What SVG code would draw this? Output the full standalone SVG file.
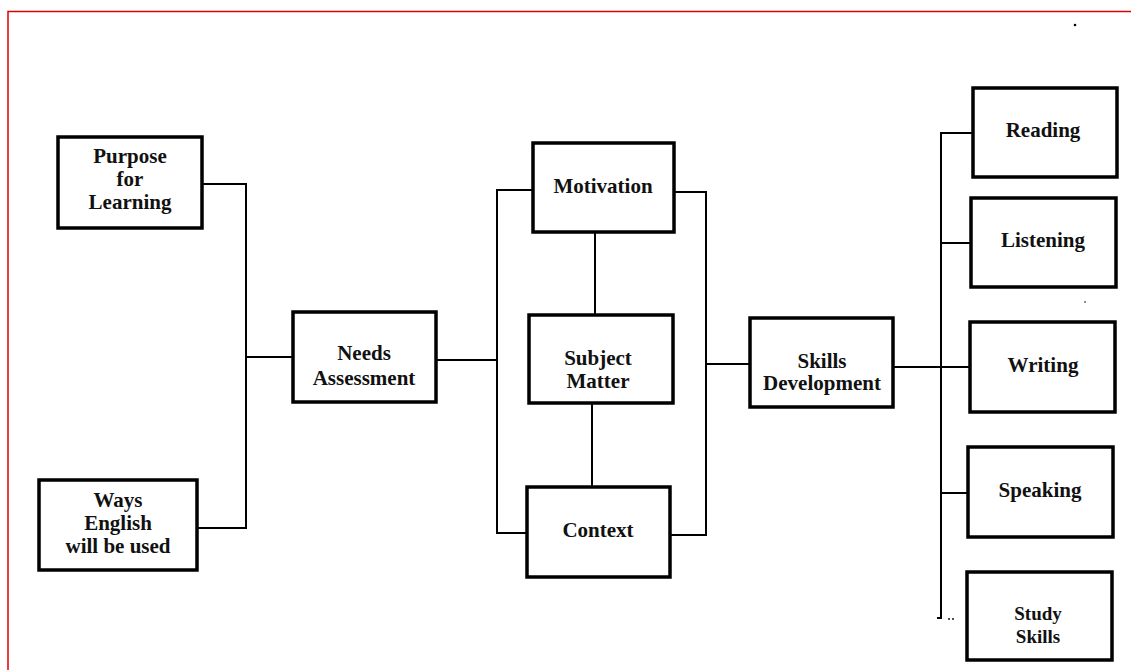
<svg xmlns="http://www.w3.org/2000/svg" width="1131" height="670" viewBox="0 0 1131 670">
<style>
.box{fill:#fff;stroke:#000;stroke-width:3.5}
.ln{fill:none;stroke:#000;stroke-width:2}
.t{font-family:"Liberation Serif","DejaVu Serif",serif;font-weight:bold;font-size:21px;fill:#111;text-anchor:middle}
.s{font-size:19px}
</style>
<rect width="1131" height="670" fill="#fff"/>
<path d="M8 670V11.5H1131" fill="none" stroke="#e00000" stroke-width="1.5"/>
<g id="connectors">
<path class="ln" d="M202 184H246V528H197"/>
<path class="ln" d="M246 357H293"/>
<path class="ln" d="M436 360H497"/>
<path class="ln" d="M533 190H497V533H527"/>
<path class="ln" d="M674 192H706V535H670"/>
<path class="ln" d="M595 232V315"/>
<path class="ln" d="M592 403V487"/>
<path class="ln" d="M706 364H750"/>
<path class="ln" d="M893 367H970"/>
<path class="ln" d="M973 133H941V618H937"/>
<path class="ln" d="M941 243H971"/>
<path class="ln" d="M940 493H968"/>
<circle cx="949" cy="619" r="0.9"/>
<circle cx="953" cy="619" r="0.9"/>
<circle cx="1075" cy="25" r="1.3"/>
<circle cx="1085" cy="302" r="0.8"/>
</g>
<g id="purpose"><rect class="box" x="58" y="137" width="144" height="91"/>
<text class="t" x="130" y="163">Purpose</text><text class="t" x="130" y="186">for</text><text class="t" x="130" y="209">Learning</text></g>
<g id="ways"><rect class="box" x="39" y="480" width="158" height="90"/>
<text class="t" x="118" y="507">Ways</text><text class="t" x="118" y="530">English</text><text class="t" x="118" y="553">will be used</text></g>
<g id="needs"><rect class="box" x="293" y="312" width="143" height="90"/>
<text class="t" x="364" y="360">Needs</text><text class="t" x="364" y="385">Assessment</text></g>
<g id="motivation"><rect class="box" x="533" y="143" width="141" height="89"/>
<text class="t" x="603" y="193">Motivation</text></g>
<g id="subject"><rect class="box" x="529" y="315" width="144" height="88"/>
<text class="t" x="598" y="365">Subject</text><text class="t" x="598" y="388">Matter</text></g>
<g id="context"><rect class="box" x="527" y="487" width="143" height="90"/>
<text class="t" x="598" y="537">Context</text></g>
<g id="skills"><rect class="box" x="750" y="318" width="143" height="89"/>
<text class="t" x="822" y="368">Skills</text><text class="t" x="822" y="390">Development</text></g>
<g id="reading"><rect class="box" x="973" y="88" width="144" height="89"/>
<text class="t" x="1043" y="137">Reading</text></g>
<g id="listening"><rect class="box" x="971" y="198" width="145" height="89"/>
<text class="t" x="1043" y="247">Listening</text></g>
<g id="writing"><rect class="box" x="970" y="322" width="145" height="90"/>
<text class="t" x="1043" y="372">Writing</text></g>
<g id="speaking"><rect class="box" x="968" y="447" width="145" height="90"/>
<text class="t" x="1040" y="497">Speaking</text></g>
<g id="study"><rect class="box" x="967" y="572" width="145" height="88"/>
<text class="t s" x="1038" y="620">Study</text><text class="t s" x="1038" y="643">Skills</text></g>
</svg>
